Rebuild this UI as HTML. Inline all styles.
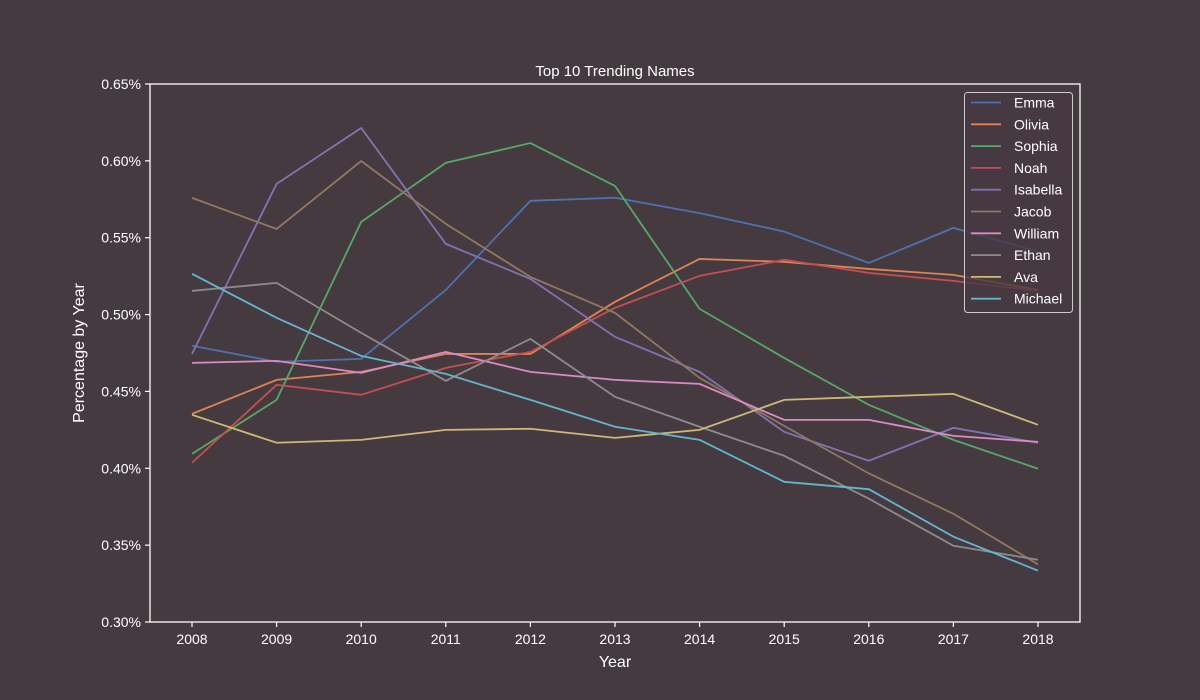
<!DOCTYPE html>
<html><head><meta charset="utf-8"><style>
body{margin:0;background:#463a41;}
svg{display:block;font-family:"Liberation Sans","DejaVu Sans",sans-serif;}
</style></head><body>
<svg id="chart" width="1200" height="700">
<rect width="1200" height="700" fill="#463a41"/>
</svg>
<script>
const years=[2008,2009,2010,2011,2012,2013,2014,2015,2016,2017,2018];
const names=["Emma","Olivia","Sophia","Noah","Isabella","Jacob","William","Ethan","Ava","Michael"];
const emma=[0.4797,0.4693,0.4712,0.516,0.574,0.576,0.566,0.554,0.5336,0.5564,0.541];
const olivia=[0.4354,0.4575,0.4627,0.4744,0.4744,0.5083,0.5362,0.5343,0.5297,0.5258,0.516];
const sophia=[0.4094,0.4445,0.5603,0.5987,0.6116,0.5837,0.5037,0.4718,0.4413,0.4185,0.3997];
const noah=[0.4036,0.4543,0.4478,0.4653,0.4757,0.5044,0.5252,0.5356,0.5271,0.5219,0.5154];
const isabella=[0.4744,0.585,0.6214,0.546,0.5232,0.4855,0.4627,0.4237,0.4049,0.4263,0.4166];
const jacob=[0.5759,0.5557,0.5999,0.559,0.5245,0.5011,0.4588,0.4276,0.3967,0.3704,0.3375];
const william=[0.4686,0.4699,0.4621,0.4757,0.4627,0.4575,0.4549,0.4315,0.4315,0.4211,0.4172];
const ethan=[0.5154,0.5206,0.4881,0.4569,0.4842,0.4465,0.427,0.4081,0.3802,0.3496,0.3405];
const ava=[0.4348,0.4166,0.4185,0.425,0.4257,0.4198,0.425,0.4445,0.4465,0.4484,0.4283];
const michael=[0.5265,0.4979,0.4731,0.4614,0.4445,0.427,0.4185,0.3912,0.3864,0.3555,0.3334];
const yTicks=[0.30,0.35,0.40,0.45,0.50,0.55,0.60,0.65];
const series=[emma,olivia,sophia,noah,isabella,jacob,william,ethan,ava,michael];
const colors=["#4c72b0","#dd8452","#55a868","#c44e52","#8172b3","#937860","#da8bc3","#8c8c8c","#ccb974","#64b5cd"];
const L=150,R=1080,T=84,B=622;
const x=i=>192+(1038-192)*(years[i]-2008)/10;
const y=v=>B-(v-0.30)/(0.35)*(B-T);
const svg=document.getElementById('chart');
const NS="http://www.w3.org/2000/svg";
function mk(t,a,p){const e=document.createElementNS(NS,t);for(const k in a)e.setAttribute(k,a[k]);(p||svg).appendChild(e);return e;}
series.forEach((s,k)=>{
 const e=mk('polyline',{points:s.map((v,i)=>x(i)+','+y(v)).join(' '),fill:'none',stroke:colors[k],'stroke-width':1.8});
 
 
});
const fr=mk('rect',{x:L,y:T,width:R-L,height:B-T,fill:'none',stroke:'#ffffff','stroke-width':1.3});


yTicks.forEach(v=>{
 mk('line',{x1:L-5,x2:L,y1:y(v),y2:y(v),stroke:'#fff','stroke-width':1.2});
 const t=mk('text',{x:L-9,y:y(v)+5,'text-anchor':'end',fill:'#fff','font-size':14});
 t.textContent=v.toFixed(2)+'%';
 
 
});
years.forEach((yr,i)=>{
 mk('line',{x1:x(i),x2:x(i),y1:B,y2:B+5,stroke:'#fff','stroke-width':1.2});
 const t=mk('text',{x:x(i),y:B+22,'text-anchor':'middle',fill:'#fff','font-size':14});
 t.textContent=yr;
 
 
});
const tt=mk('text',{x:615,y:76,'text-anchor':'middle',fill:'#fff','font-size':15});
tt.textContent='Top 10 Trending Names';


const xt=mk('text',{x:615,y:667,'text-anchor':'middle',fill:'#fff','font-size':16});
xt.textContent='Year';


const yt=mk('text',{x:84,y:353,'text-anchor':'middle',fill:'#fff','font-size':16,transform:'rotate(-90 84 353)'});
yt.textContent='Percentage by Year';


const lg=mk('g',{});


mk('rect',{x:964.5,y:92.5,width:108,height:220,rx:3,fill:'#463a41','fill-opacity':0.8,stroke:'#cccccc','stroke-width':1},lg);
names.forEach((n,k)=>{
 const cy=102.5+k*21.8;
 mk('line',{x1:971,x2:1001,y1:cy,y2:cy,stroke:colors[k],'stroke-width':1.8},lg);
 const t=mk('text',{x:1014,y:cy+5,fill:'#fff','font-size':14},lg);
 t.textContent=n;
 
 
});
</script>
</body></html>
